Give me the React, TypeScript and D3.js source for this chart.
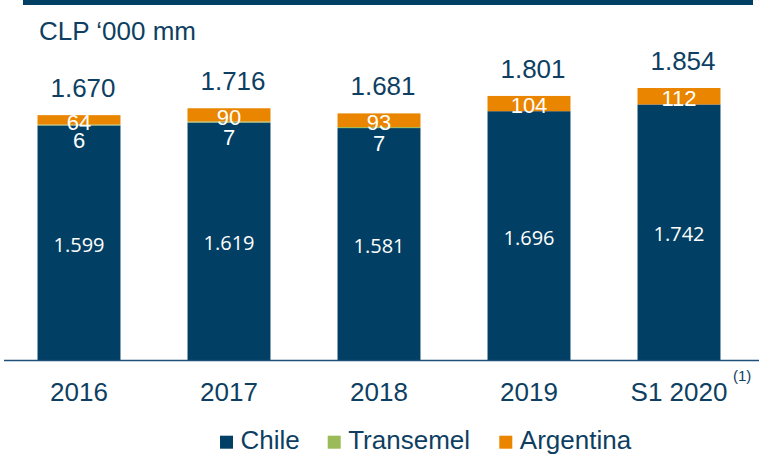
import React from "react";
import * as d3 from "d3";

const categories = ["2016", "2017", "2018", "2019", "S1 2020"];
const chile = [1599, 1619, 1581, 1696, 1742];
const transemel = [6, 7, 7, 0, 0];
const argentina = [64, 90, 93, 104, 112];
const totals = [1670, 1716, 1681, 1801, 1854];
const chileLabels = ["1.599", "1.619", "1.581", "1.696", "1.742"];
const totalLabels = ["1.670", "1.716", "1.681", "1.801", "1.854"];
const seriesNames = ["Chile", "Transemel", "Argentina"];

const W = 759;
const H = 461;
const BLUE = "#023F64";
const GREEN = "#9BBB59";
const ORANGE = "#EA8500";
const TEXT = "#0E3F62";
const colors = [BLUE, GREEN, ORANGE];

export default function App() {
  const x = d3
    .scaleBand<string>()
    .domain(categories)
    .range([4, 754])
    .paddingInner(0.447)
    .paddingOuter(0.2235);
  const y = d3.scaleLinear().domain([0, 2000]).range([360, 66.6]);

  const rows = categories.map((c, i) => ({
    cat: c,
    Chile: chile[i],
    Transemel: transemel[i],
    Argentina: argentina[i],
  }));
  const stack = d3.stack<any>().keys(seriesNames)(rows);

  const legendX = [220, 327.7, 499.3];
  const font = "Arial, 'Liberation Sans', sans-serif";

  return (
    <svg
      width={W}
      height={H}
      style={{ position: "absolute", left: 0, top: 0, background: "#fff" }}
      fontFamily={font}
    >
      <rect x={23} y={0} width={730} height={5} fill={BLUE} />
      <text x={39} y={39.5} fontSize={26} fill={TEXT}>
        CLP ‘000 mm
      </text>

      {stack.map((layer, si) => (
        <g key={seriesNames[si]} fill={colors[si]}>
          {layer.map((d, i) => {
            const h = y(d[0]) - y(d[1]);
            if (h <= 0) return null;
            return (
              <rect
                key={i}
                x={x(categories[i])!}
                y={y(d[1])}
                width={x.bandwidth()}
                height={h}
              />
            );
          })}
        </g>
      ))}

      {/* Chile labels */}
      {categories.map((c, i) => {
        const cx = x(c)! + x.bandwidth() / 2;
        const mid = (y(0) + y(chile[i])) / 2;
        return (
          <text
            key={"c" + c}
            x={cx}
            y={mid + 2 + 7.2}
            textAnchor="middle"
            fontSize={20}
            fill="#fff"
            fontFamily="'Open Sans', 'Noto Sans', sans-serif"
          >
            {chileLabels[i]}
          </text>
        );
      })}

      {/* Transemel labels */}
      {categories.map((c, i) => {
        if (!transemel[i]) return null;
        const cx = x(c)! + x.bandwidth() / 2;
        const mid = y(chile[i] + transemel[i] / 2);
        return (
          <text
            key={"t" + c}
            x={cx}
            y={mid + 15 + 8}
            textAnchor="middle"
            fontSize={22}
            fill="#fff"
          >
            {transemel[i]}
          </text>
        );
      })}

      {/* Argentina labels */}
      {categories.map((c, i) => {
        const cx = x(c)! + x.bandwidth() / 2;
        const base = chile[i] + transemel[i];
        const mid = (y(base) + y(base + argentina[i])) / 2;
        return (
          <text
            key={"a" + c}
            x={cx}
            y={mid + 2 + 7.9}
            textAnchor="middle"
            fontSize={22}
            fill="#fff"
          >
            {argentina[i]}
          </text>
        );
      })}

      {/* Totals */}
      {categories.map((c, i) => {
        const cx = x(c)! + x.bandwidth() / 2 + 4;
        return (
          <text
            key={"s" + c}
            x={cx}
            y={y(totals[i]) - 18}
            textAnchor="middle"
            fontSize={26}
            fill={TEXT}
          >
            {totalLabels[i]}
          </text>
        );
      })}

      {/* Axis */}
      <line x1={4} x2={759} y1={360.5} y2={360.5} stroke="#1F4E79" strokeWidth={1.5} />
      {categories.map((c) => (
        <text
          key={"x" + c}
          x={x(c)! + x.bandwidth() / 2}
          y={401}
          textAnchor="middle"
          fontSize={26}
          fill={TEXT}
        >
          {c}
        </text>
      ))}
      <text x={733} y={381} fontSize={15} fill={TEXT}>
        (1)
      </text>

      {/* Legend */}
      {seriesNames.map((s, i) => (
        <g key={"l" + s}>
          <rect x={legendX[i]} y={435.7} width={13} height={13} fill={colors[i]} />
          <text x={legendX[i] + 20.5} y={449} fontSize={26} fill={TEXT}>
            {s}
          </text>
        </g>
      ))}
    </svg>
  );
}
